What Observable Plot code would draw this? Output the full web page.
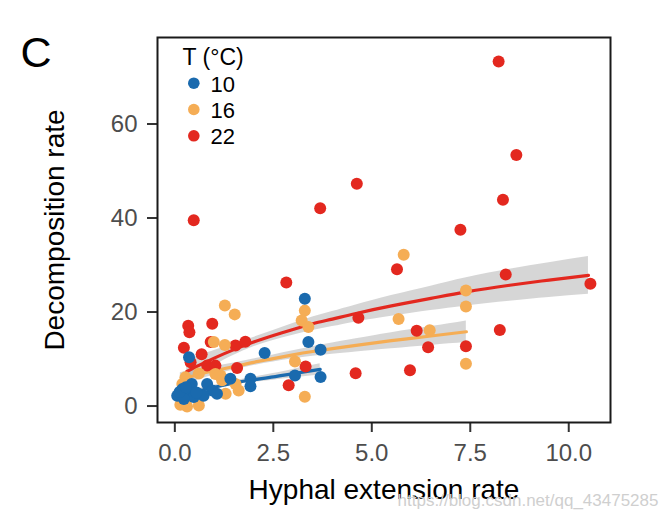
<!DOCTYPE html>
<html>
<head>
<meta charset="utf-8">
<script src="https://cdn.jsdelivr.net/npm/d3@7"></script>
<script src="https://cdn.jsdelivr.net/npm/@observablehq/plot@0.6"></script>
<style>
  html, body { margin: 0; padding: 0; background: #fff; }
  #chart { width: 667px; height: 518px; }
</style>
</head>
<body>
<div id="chart"></div>
<script>
// ---- Data ----
const temps = ["10", "16", "22"];
const colors = ["#1a6aae", "#f5ad55", "#e3281f"];

const x10 = [3.30, 3.39, 3.70, 2.28, 3.70, 3.05, 1.92, 1.92, 1.41, 0.82, 0.95, 1.07, 0.73, 0.36, 0.06, 0.19, 0.31, 0.39, 0.48, 0.23, 0.43, 0.55, 0.12, 0.28];
const y10 = [22.8, 13.6, 12.0, 11.3, 6.2, 6.5, 5.8, 4.2, 5.8, 4.7, 3.3, 2.6, 2.2, 10.4, 2.2, 3.6, 2.6, 3.6, 1.9, 1.5, 4.7, 2.9, 3.0, 4.0];

const x16 = [5.81, 7.39, 7.39, 5.68, 6.47, 7.39, 3.30, 3.22, 3.39, 3.05, 3.30, 1.27, 1.52, 0.99, 1.27, 1.16, 1.03, 1.54, 1.62, 1.29, 0.61, 0.31, 0.14, 0.27, 0.19, 0.61, 1.20];
const y16 = [32.2, 24.6, 21.2, 18.5, 16.1, 9.0, 20.3, 18.2, 16.8, 9.5, 2.0, 21.4, 19.5, 13.6, 13.0, 6.5, 6.8, 4.7, 3.3, 2.6, 0.1, -0.1, 0.3, 6.1, 4.7, 6.9, 5.5];

const x22 = [8.22, 8.67, 8.33, 4.62, 3.69, 0.48, 7.25, 5.64, 8.40, 10.55, 2.83, 4.66, 6.14, 8.25, 6.43, 7.39, 4.59, 5.97, 3.32, 2.89, 0.95, 0.34, 0.37, 0.23, 0.68, 0.40, 0.82, 1.03, 1.58, 1.54, 1.79, 0.91];
const y22 = [73.3, 53.4, 43.9, 47.3, 42.1, 39.5, 37.5, 29.1, 28.0, 26.0, 26.3, 18.8, 16.0, 16.2, 12.5, 12.7, 7.0, 7.6, 8.4, 4.4, 17.5, 17.1, 15.7, 12.4, 11.0, 9.3, 8.6, 8.6, 8.1, 12.9, 13.7, 13.6];

// fitted curves with confidence ribbons
const fitX10 = [0.06, 0.3, 0.6, 1.0, 1.5, 2.0, 2.5, 3.0, 3.69];
const fitY10 = [2.0, 2.6, 3.2, 4.0, 4.9, 5.6, 6.2, 6.9, 7.8];
const fitLo10 = [1.1, 1.9, 2.65, 3.55, 4.45, 5.05, 5.5, 6.0, 6.6];
const fitHi10 = [2.9, 3.3, 3.75, 4.45, 5.35, 6.15, 6.9, 7.8, 9.0];

const fitX16 = [0.14, 0.5, 1.0, 1.5, 2.0, 2.5, 3.0, 3.5, 4.0, 4.6, 5.5, 6.5, 7.4];
const fitY16 = [5.5, 6.5, 7.5, 8.4, 9.3, 10.1, 10.9, 11.6, 12.2, 12.9, 13.9, 14.9, 15.8];
const fitLo16 = [3.9, 5.3, 6.6, 7.65, 8.6, 9.35, 10.05, 10.6, 11.0, 11.5, 12.2, 12.9, 13.5];
const fitHi16 = [7.1, 7.7, 8.4, 9.15, 10.0, 10.85, 11.75, 12.6, 13.4, 14.3, 15.6, 16.9, 18.1];

const fitX22 = [0.3, 0.5, 1.0, 1.5, 2.0, 2.5, 3.0, 3.5, 4.0, 4.6, 5.5, 6.5, 7.4, 8.5, 9.5, 10.5];
const fitY22 = [7.3, 8.2, 10.2, 12.0, 13.6, 15.0, 16.3, 17.5, 18.5, 19.7, 21.3, 22.9, 24.3, 25.7, 26.8, 27.8];
const fitLo22 = [4.7, 6.0, 8.6, 10.8, 12.6, 13.95, 15.05, 16.05, 16.9, 17.9, 19.1, 20.3, 21.3, 22.3, 23.1, 23.8];
const fitHi22 = [9.9, 10.4, 11.8, 13.2, 14.6, 16.05, 17.55, 18.95, 20.1, 21.5, 23.5, 25.5, 27.3, 29.1, 30.5, 31.8];

const xTicks = [0, 2.5, 5, 7.5, 10];
const yTicks = [0, 20, 40, 60];

// ---- Build tables ----
const pts = [
  {t: "22", xs: x22, ys: y22},
  {t: "16", xs: x16, ys: y16},
  {t: "10", xs: x10, ys: y10}
];
const fits = [
  {t: "22", xs: fitX22, ys: fitY22, lo: fitLo22, hi: fitHi22},
  {t: "16", xs: fitX16, ys: fitY16, lo: fitLo16, hi: fitHi16},
  {t: "10", xs: fitX10, ys: fitY10, lo: fitLo10, hi: fitHi10}
];
const colorOf = t => colors[temps.indexOf(t)];

const marks = [];
for (const f of fits) {
  const rows = f.xs.map((x, i) => ({x, y: f.ys[i], lo: f.lo[i], hi: f.hi[i]}));
  marks.push(Plot.areaY(rows, {x: "x", y1: "lo", y2: "hi", fill: "#999999", fillOpacity: 0.4, curve: "natural"}));
}
for (const f of fits) {
  const rows = f.xs.map((x, i) => ({x, y: f.ys[i]}));
  marks.push(Plot.line(rows, {x: "x", y: "y", stroke: colorOf(f.t), strokeWidth: 3.2, curve: "natural"}));
}
for (const p of pts) {
  const rows = p.xs.map((x, i) => ({x, y: p.ys[i]}));
  marks.push(Plot.dot(rows, {x: "x", y: "y", r: 6, fill: colorOf(p.t)}));
}

const font = "Liberation Sans, Arial, Helvetica, sans-serif";

// legend inside the panel
marks.push(Plot.text(["T (°C)"], {frameAnchor: "top-left", dx: 25, dy: 20.6, textAnchor: "start", lineAnchor: "middle", fontSize: 23, fill: "#000"}));
temps.forEach((t, i) => {
  marks.push(Plot.dot([t], {frameAnchor: "top-left", dx: 36.3, dy: 45.7 + 26.3 * i, r: 5.8, fill: colors[i]}));
  marks.push(Plot.text([t], {frameAnchor: "top-left", dx: 53, dy: 47 + 26.3 * i, textAnchor: "start", lineAnchor: "middle", fontSize: 22, fill: "#000"}));
});

// axes
marks.push(Plot.axisY({ticks: yTicks, tickSize: 10, tickPadding: 10, fontSize: 24, fill: "#4d4d4d", stroke: "#333", strokeWidth: 2, label: null}));
marks.push(Plot.axisX({ticks: xTicks, tickSize: 10, tickPadding: 11, fontSize: 24, fill: "#4d4d4d", stroke: "#333", strokeWidth: 2, tickFormat: d3.format(".1f"), label: null}));
marks.push(Plot.frame({stroke: "#1a1a1a", strokeWidth: 2}));

// titles
marks.push(Plot.text(["Hyphal extension rate"], {frameAnchor: "bottom", dy: 67.4, textAnchor: "middle", lineAnchor: "middle", fontSize: 28, fill: "#000"}));
marks.push(Plot.text(["Decomposition rate"], {frameAnchor: "left", dx: -102.5, rotate: -90, textAnchor: "middle", lineAnchor: "middle", fontSize: 28, fill: "#000"}));
marks.push(Plot.text(["C"], {frameAnchor: "top-left", dx: -137, dy: 16.2, textAnchor: "start", lineAnchor: "middle", fontSize: 43, fill: "#000"}));
marks.push(Plot.text(["https://blog.csdn.net/qq_43475285"], {frameAnchor: "bottom-right", dx: 48, dy: 77.6, textAnchor: "end", lineAnchor: "middle", fontSize: 17, fill: "#cfcfcf"}));

const chart = Plot.plot({
  width: 667,
  height: 518,
  marginLeft: 157,
  marginRight: 57,
  marginTop: 37,
  marginBottom: 96,
  style: {fontFamily: font, background: "white", overflow: "visible"},
  x: {domain: [-0.44, 11.06], axis: null},
  y: {domain: [-3.5, 78.4], axis: null},
  marks
});
document.getElementById("chart").appendChild(chart);
</script>
</body>
</html>
